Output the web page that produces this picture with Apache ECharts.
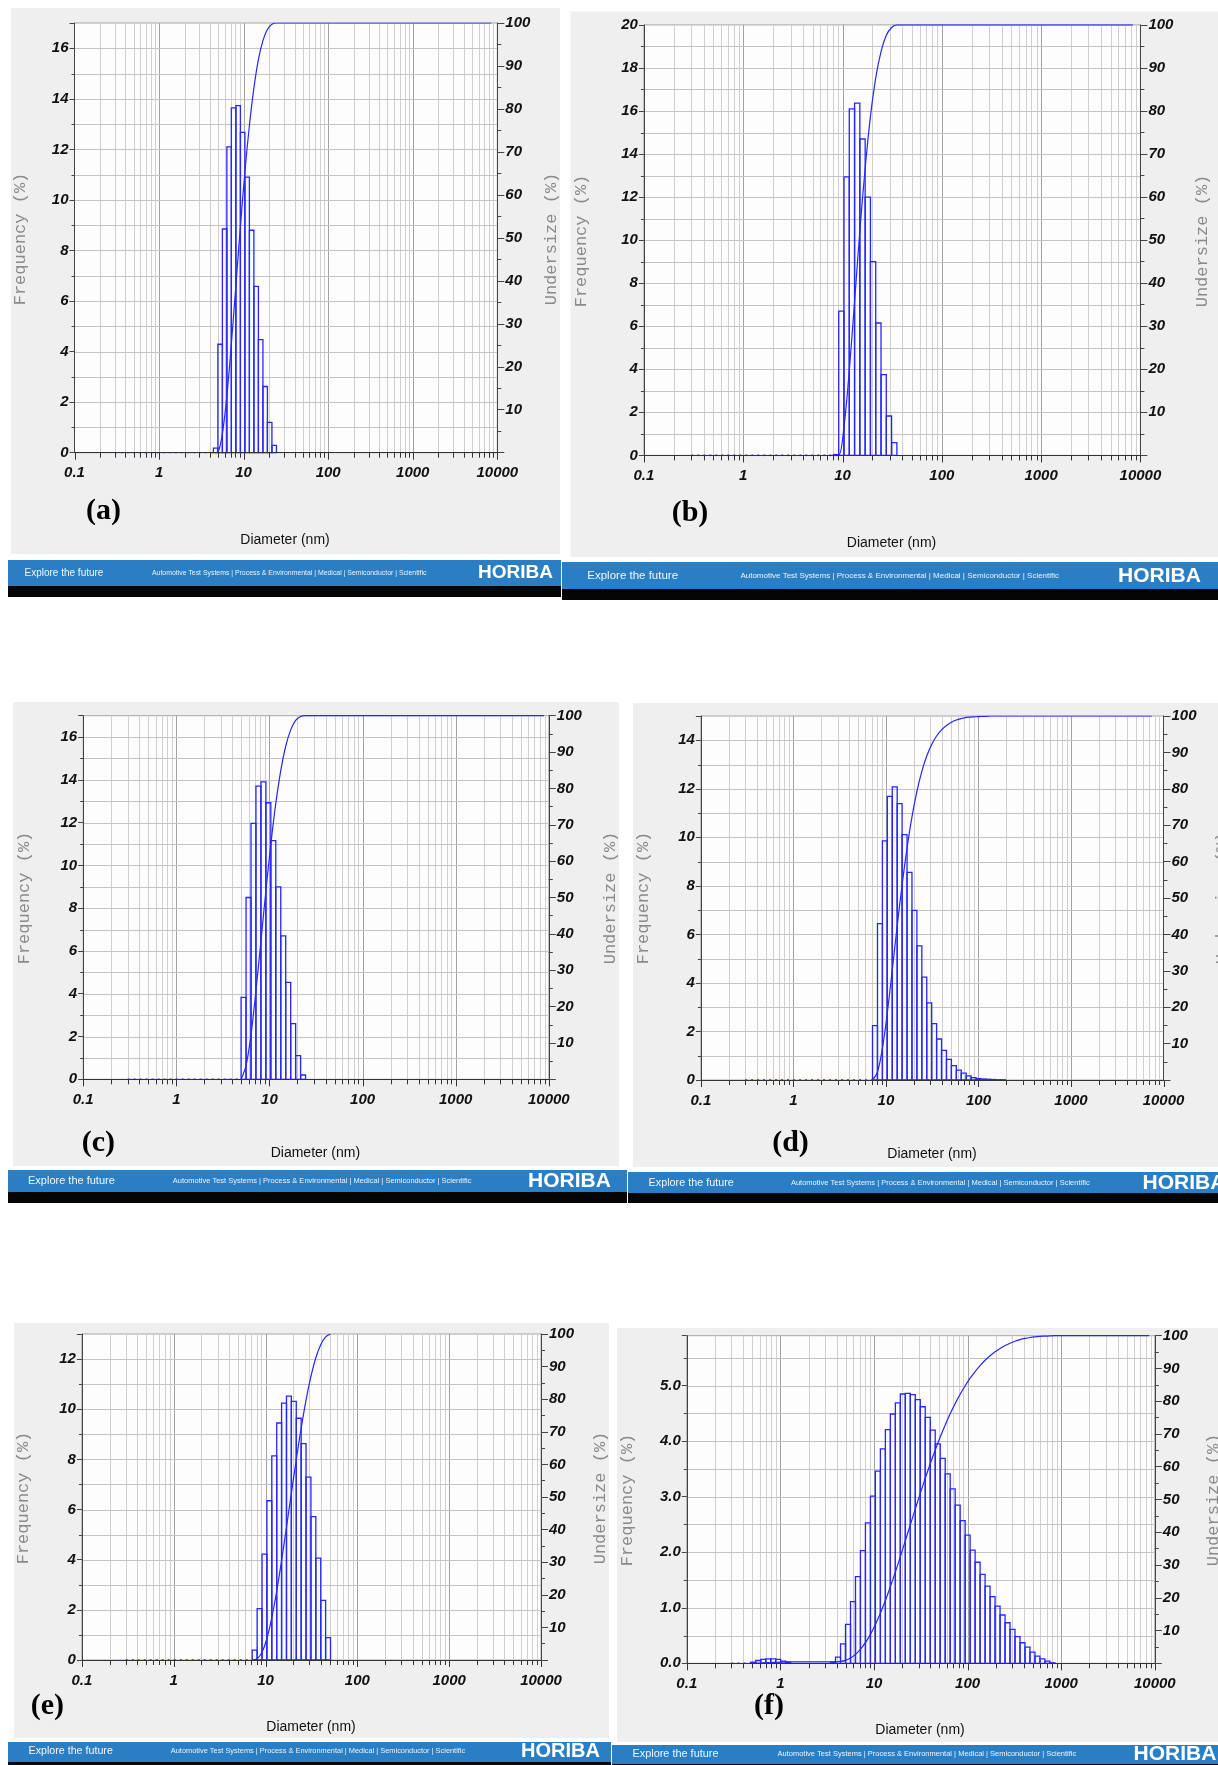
<!DOCTYPE html>
<html><head><meta charset="utf-8">
<script src="https://cdn.jsdelivr.net/npm/echarts@6/dist/echarts.min.js"></script>
<style>html,body{margin:0;padding:0;background:#fff}#c{width:1218px;height:1765px}</style>
</head><body><div id="c"></div>
<script>
// ---------------- DATA ----------------
// bin edges (nm), frequency per bin (%), undersize at each edge (%)
const aEdges = [4.39, 4.96, 5.61, 6.34, 7.16, 8.10, 9.16, 10.35, 11.70, 13.23, 14.95, 16.91, 19.11, 21.61, 24.43];
const aFreq  = [0.18, 4.29, 8.85, 12.10, 13.64, 13.73, 12.67, 10.90, 8.80, 6.58, 4.47, 2.62, 1.20, 0.29];
const aUnder = [0, 0.2, 4.5, 13.3, 25.3, 38.9, 52.6, 65.3, 76.1, 84.9, 91.5, 95.9, 98.5, 99.7, 100];

const bEdges = [8.10, 9.16, 10.35, 11.70, 13.23, 14.95, 16.91, 19.11, 21.61, 24.43, 27.61, 31.22, 35.29];
const bFreq  = [0.04, 6.70, 12.94, 16.10, 16.37, 14.70, 12.00, 9.00, 6.15, 3.75, 1.83, 0.59];
const bUnder = [0, 0.04, 6.7, 19.7, 35.7, 52.1, 66.7, 78.7, 87.7, 93.8, 97.6, 99.4, 100];

const cEdges = [4.96, 5.61, 6.34, 7.16, 8.10, 9.16, 10.35, 11.70, 13.23, 14.95, 16.91, 19.11, 21.61, 24.43];
const cFreq  = [3.83, 8.50, 11.97, 13.71, 13.91, 12.93, 11.16, 9.00, 6.71, 4.53, 2.60, 1.11, 0.20];
const cUnder = [0, 3.8, 12.3, 24.3, 38.0, 51.8, 64.7, 75.9, 84.9, 91.6, 96.1, 98.7, 99.8, 100];

const dEdges = [7.16, 8.10, 9.16, 10.35, 11.70, 13.23, 14.95, 16.91, 19.11, 21.61, 24.43, 27.61, 31.22, 35.29, 39.90, 45.10, 50.99, 57.64, 65.16, 73.67, 83.28, 94.15, 106.4, 120.3, 136.0, 153.8, 173.9, 196.5];
const dFreq  = [2.24, 6.44, 9.85, 11.69, 12.08, 11.39, 10.11, 8.56, 6.99, 5.53, 4.24, 3.18, 2.32, 1.69, 1.22, 0.85, 0.59, 0.41, 0.28, 0.17, 0.10, 0.06, 0.04, 0.03, 0.02, 0.01, 0.01];
const dUnder = [0, 2.2, 8.7, 18.5, 30.2, 42.3, 53.6, 63.7, 72.3, 79.3, 84.8, 89.0, 92.2, 94.5, 96.2, 97.4, 98.3, 98.9, 99.3, 99.6, 99.7, 99.8, 99.9, 99.9, 100, 100, 100, 100];

const eEdges = [7.16, 8.10, 9.16, 10.35, 11.70, 13.23, 14.95, 16.91, 19.11, 21.61, 24.43, 27.61, 31.22, 35.29, 39.90, 45.10, 50.99];
const eFreq  = [0.39, 2.05, 4.22, 6.35, 8.14, 9.45, 10.24, 10.52, 10.31, 9.64, 8.63, 7.29, 5.72, 4.06, 2.38, 0.89];
const eUnder = [0, 0.4, 2.4, 6.6, 13.0, 21.1, 30.5, 40.7, 51.2, 61.5, 71.1, 79.7, 87.0, 92.7, 96.7, 99.1, 100];

const fEdges = [0.482, 0.545, 0.616, 0.697, 0.788, 0.890, 1.007, 1.138, 1.286, 1.454, 1.644, 1.858, 2.101, 2.375, 2.685, 3.036,
  3.432, 3.879, 4.39, 4.96, 5.61, 6.34, 7.16, 8.10, 9.16, 10.35, 11.70, 13.23, 14.95, 16.91, 19.11, 21.61, 24.43, 27.61,
  31.22, 35.29, 39.90, 45.10, 50.99, 57.64, 65.16, 73.67, 83.28, 94.15, 106.4, 120.3, 136.0, 153.8, 173.9, 196.5, 222.2,
  251.2, 284.0, 321.0, 362.9, 410.3, 463.8, 524.3, 592.8, 670.1, 757.6, 856.4];
const fFreq  = [0.02, 0.05, 0.07, 0.08, 0.08, 0.07, 0.04, 0.02, 0, 0, 0, 0, 0, 0, 0, 0,
  0.02, 0.11, 0.35, 0.70, 1.11, 1.56, 2.03, 2.53, 3.01, 3.46, 3.86, 4.21, 4.49, 4.69, 4.85, 4.86, 4.84, 4.75,
  4.62, 4.43, 4.20, 3.95, 3.69, 3.41, 3.14, 2.85, 2.57, 2.31, 2.04, 1.82, 1.60, 1.39, 1.20, 1.03, 0.87,
  0.73, 0.61, 0.48, 0.37, 0.29, 0.20, 0.13, 0.08, 0.04, 0.01];
const fUnder = [0, 0.02, 0.07, 0.14, 0.22, 0.30, 0.37, 0.41, 0.43, 0.43, 0.43, 0.43, 0.43, 0.43, 0.43, 0.43,
  0.43, 0.45, 0.56, 0.91, 1.61, 2.72, 4.28, 6.31, 8.84, 11.85, 15.31, 19.17, 23.38, 27.87, 32.56, 37.41, 42.27, 47.11,
  51.86, 56.48, 60.91, 65.11, 69.06, 72.75, 76.16, 79.30, 82.15, 84.72, 87.03, 89.07, 90.89, 92.49, 93.88, 95.08, 96.11,
  96.98, 97.71, 98.32, 98.80, 99.17, 99.46, 99.66, 99.79, 99.87, 99.95, 100];

const undersizeEnd = [8500, 8400, 8900, 7500, null, 8700];   // nm where the 100 % plateau stops
const dottedStart = 0.3;                                        // nm, start of dotted zero line
const freqAxisMax = [17, 20, 17, 15, 13, 5.9];
const freqLabelStep = [2, 2, 2, 2, 2, 1];
const freqGridStep = [1, 1, 1, 1, 1, 0.5];
const freqDecimals = [0, 0, 0, 0, 0, 1];
const xTickLabels = ['0.1', '1', '10', '100', '1000', '10000'];
const panelTags = ['(a)', '(b)', '(c)', '(d)', '(e)', '(f)'];
const xTitle = 'Diameter (nm)';
const yTitleLeft = 'Frequency (%)';
const yTitleRight = 'Undersize (%)';
const footerLeft = 'Explore the future';
const footerMid = 'Automotive Test Systems | Process & Environmental | Medical | Semiconductor | Scientific';
const footerBrand = 'HORIBA';

// ---------------- LAYOUT ----------------
const LAYOUT = [
  {bg:[11,8,549,546], grid:[74.5,23,422.8,429.7], foot:[8,560,553,26,11], ex:24.5, exS:10, sm:152, smS:6.9, hx:478, hS:19, cy:573,
   tag:[103.6,511], diam:[285,540], fq:[20,239], us:[551,239]},
  {bg:[570.5,11.5,647.5,545.5], grid:[643.9,24.9,496.5,430.5], foot:[562,562,656,27,11], ex:587.3, exS:11.5, sm:740.4, smS:8, hx:1118, hS:21, cy:576,
   tag:[690,513], diam:[891.5,542.7], fq:[581,241], us:[1202,241]},
  {bg:[13,702,606,464], grid:[83.2,715.7,465.6,363.6], foot:[8,1170,619,22,11], ex:28, exS:11, sm:172.8, smS:7.5, hx:528, hS:21, cy:1181,
   tag:[98.4,1143], diam:[315.4,1153], fq:[24,898], us:[610,898]},
  {bg:[633,703,585,464], grid:[700.9,716,462.6,364], foot:[628,1172,590,21,10], ex:648.6, exS:10.8, sm:790.9, smS:7.5, hx:1142.5, hS:21, cy:1183,
   tag:[790.5,1143], diam:[932,1154.3], fq:[643,898], us:[1222,898]},
  {bg:[14,1323,595,415], grid:[81.9,1334,459.1,326], foot:[8,1742,603,20,5], ex:28.5, exS:10.7, sm:170.8, smS:7.4, hx:521, hS:20, cy:1751,
   tag:[47.4,1706.7], diam:[311,1726.7], fq:[23.7,1498], us:[600,1498]},
  {bg:[617,1328,601,414], grid:[686.8,1335.7,468,327.6], foot:[612,1745,606,19,3], ex:632.5, exS:10.9, sm:777.5, smS:7.5, hx:1133.5, hS:21, cy:1754,
   tag:[769,1706.7], diam:[920,1730], fq:[627.4,1500], us:[1213,1500]}
];

const BLUE = '#2626ff';
const MONO = "'Liberation Mono','Courier New',monospace";
const SERIF = "'Liberation Serif','Times New Roman',serif";
const SANS = "'Liberation Sans',Arial,sans-serif";

const panels = [
  {edges:aEdges, freq:aFreq, under:aUnder},
  {edges:bEdges, freq:bFreq, under:bUnder},
  {edges:cEdges, freq:cFreq, under:cUnder},
  {edges:dEdges, freq:dFreq, under:dUnder},
  {edges:eEdges, freq:eFreq, under:eUnder},
  {edges:fEdges, freq:fFreq, under:fUnder}
];

function logGridValues() {
  const out = [];
  for (let e = -1; e <= 3; e++) for (let m = 1; m <= 9; m++) out.push(+(m * Math.pow(10, e)).toPrecision(3));
  out.push(10000);
  return out;
}
const VGRID = logGridValues();

function renderVGrid(params, api) {
  const v = api.value(0);
  const cs = params.coordSys;
  const x = Math.round(api.coord([v, 0])[0]) + 0.5;
  const lg = Math.log10(v);
  const major = Math.abs(lg - Math.round(lg)) < 1e-6;
  const top = cs.y, bot = cs.y + cs.height;
  const ch = [];
  if (v > 0.1 && v < 10000) ch.push({type:'line', shape:{x1:x, y1:top, x2:x, y2:bot}, style:{stroke: major ? '#a2a2a2' : '#d0d0d0', lineWidth:1}});
  ch.push({type:'line', shape:{x1:x, y1:bot, x2:x, y2:bot + (major ? 7 : 5)}, style:{stroke:'#333', lineWidth:1}});
  return {type:'group', children:ch};
}
function makeHGrid(step) {
  return function (params, api) {
    const v = api.value(1);
    const cs = params.coordSys;
    const y = Math.round(api.coord([1, v])[1]) + 0.5;
    const ch = [];
    if (v > 0) ch.push({type:'line', shape:{x1:cs.x, y1:y, x2:cs.x + cs.width, y2:y}, style:{stroke:'#c4c4c4', lineWidth:1}});
    const r = v / step;
    if (Math.abs(r - Math.round(r)) > 1e-6) ch.push({type:'line', shape:{x1:cs.x - 3, y1:y, x2:cs.x, y2:y}, style:{stroke:'#444', lineWidth:1}});
    return {type:'group', children:ch};
  };
}
function renderBar(params, api) {
  const y = api.value(2);
  if (!(y > 0)) return null;
  const p0 = api.coord([api.value(0), y]);
  const p1 = api.coord([api.value(1), 0]);
  return {type:'rect', shape:{x:p0[0], y:p0[1], width:p1[0] - p0[0], height:p1[1] - p0[1]},
          style:{fill:'rgba(0,0,0,0)', stroke:BLUE, lineWidth:1.3}};
}
function xLabel(v) {
  const i = Math.round(Math.log10(v)) + 1;
  return xTickLabels[i] || '';
}

const option = {animation:false, grid:[], xAxis:[], yAxis:[], series:[], graphic:[]};
const axisFont = {fontFamily:SANS, fontStyle:'italic', fontWeight:'bold', fontSize:15, color:'#111'};

panels.forEach((p, i) => {
  const L = LAYOUT[i];
  const ymax = freqAxisMax[i], ystep = freqLabelStep[i], gstep = freqGridStep[i], dec = freqDecimals[i];
  option.grid.push({left:L.grid[0], top:L.grid[1], width:L.grid[2], height:L.grid[3], show:true,
    backgroundColor:'#fdfdfd', borderColor:'#a6a6a6', borderWidth:1});
  option.xAxis.push({type:'log', logBase:10, gridIndex:i, min:0.1, max:10000, splitNumber:5, z:6,
    axisLine:{show:true, onZero:false, lineStyle:{color:'#333', width:1}}, axisTick:{show:false},
    splitLine:{show:false}, minorTick:{show:false}, minorSplitLine:{show:false},
    axisLabel:Object.assign({margin:13, formatter:xLabel, showMinLabel:true, showMaxLabel:true}, axisFont)});
  option.yAxis.push({type:'value', gridIndex:i, position:'left', min:0, max:ymax, interval:ystep, z:6,
    axisLine:{show:true, onZero:false, lineStyle:{color:'#444'}}, axisTick:{show:true, length:5, lineStyle:{color:'#444'}},
    splitLine:{show:false},
    axisLabel:Object.assign({margin:6, formatter:v => { const r = v / ystep; return Math.abs(r - Math.round(r)) < 1e-6 ? v.toFixed(dec) : ''; }}, axisFont)});
  option.yAxis.push({type:'value', gridIndex:i, position:'right', min:0, max:100, interval:10, z:6,
    axisLine:{show:true, onZero:false, lineStyle:{color:'#444'}}, axisTick:{show:true, length:7, lineStyle:{color:'#444'}},
    minorTick:{show:true, splitNumber:2, length:4, lineStyle:{color:'#444'}}, splitLine:{show:false},
    axisLabel:Object.assign({margin:8, formatter:v => v === 0 ? '' : String(v)}, axisFont)});

  const hvals = [];
  for (let k = 0; k * gstep < ymax - 1e-9; k++) hvals.push([1, +(k * gstep).toFixed(2)]);

  option.series.push({type:'custom', xAxisIndex:i, yAxisIndex:2 * i, z:1, silent:true, clip:false,
    data:VGRID.map(v => [v, 0]), encode:{x:0, y:1}, renderItem:renderVGrid});
  option.series.push({type:'custom', xAxisIndex:i, yAxisIndex:2 * i, z:1, silent:true, clip:false,
    data:hvals, encode:{x:0, y:1}, renderItem:makeHGrid(ystep)});
  option.series.push({type:'custom', xAxisIndex:i, yAxisIndex:2 * i, z:3, silent:true,
    data:p.freq.map((f, j) => [p.edges[j], p.edges[j + 1], f]), encode:{x:[0, 1], y:2}, renderItem:renderBar});
  option.series.push({type:'line', xAxisIndex:i, yAxisIndex:2 * i, z:4, silent:true, showSymbol:false,
    data:[[dottedStart, 0], [p.edges[0], 0]], lineStyle:{color:BLUE, width:1.6, type:[2, 4]}});
  const curve = p.edges.map((e, j) => [e, p.under[j]]);
  if (undersizeEnd[i]) curve.push([undersizeEnd[i], 100]);
  option.series.push({type:'line', xAxisIndex:i, yAxisIndex:2 * i + 1, z:5, silent:true, showSymbol:false,
    smooth:0.35, data:curve, lineStyle:{color:BLUE, width:1.2}});

  // graphics: panel background, footer, titles
  option.graphic.push({type:'rect', z:-100, shape:{x:L.bg[0], y:L.bg[1], width:L.bg[2], height:L.bg[3]}, style:{fill:'#efefef'}});
  const F = L.foot;
  option.graphic.push({type:'rect', z:-50, shape:{x:F[0], y:F[1], width:F[2], height:F[3]}, style:{fill:'#2a7ec3'}});
  option.graphic.push({type:'rect', z:-50, shape:{x:F[0], y:F[1] + F[3], width:F[2], height:F[4]}, style:{fill:'#050505'}});
  option.graphic.push({type:'text', z:100, x:L.ex, y:L.cy, style:{text:footerLeft, fill:'#f2f6fb', fontFamily:SANS, fontSize:L.exS, verticalAlign:'middle', align:'left'}});
  option.graphic.push({type:'text', z:100, x:L.sm, y:L.cy, style:{text:footerMid, fill:'#eef3f9', fontFamily:SANS, fontSize:L.smS, verticalAlign:'middle', align:'left'}});
  option.graphic.push({type:'text', z:100, x:L.hx, y:L.cy, style:{text:footerBrand, fill:'#ffffff', fontFamily:SANS, fontWeight:'bold', fontSize:L.hS, verticalAlign:'middle', align:'left'}});
  option.graphic.push({type:'text', z:100, x:L.tag[0], y:L.tag[1], style:{text:panelTags[i], fill:'#000', fontFamily:SERIF, fontWeight:'bold', fontSize:30, verticalAlign:'middle', align:'center'}});
  option.graphic.push({type:'text', z:100, x:L.diam[0], y:L.diam[1], style:{text:xTitle, fill:'#111', fontFamily:SANS, fontSize:14, verticalAlign:'middle', align:'center'}});
  option.graphic.push({type:'text', z:100, x:L.fq[0], y:L.fq[1], rotation:Math.PI / 2, style:{text:yTitleLeft, fill:'#8a8a8a', fontFamily:MONO, fontSize:17, verticalAlign:'middle', align:'center'}});
  option.graphic.push({type:'text', z:100, x:L.us[0], y:L.us[1], rotation:Math.PI / 2, style:{text:yTitleRight, fill:'#8a8a8a', fontFamily:MONO, fontSize:17, verticalAlign:'middle', align:'center'}});
});

const chart = echarts.init(document.getElementById('c'), null, {renderer:'canvas', width:1218, height:1765});
chart.setOption(option);
</script></body></html>
